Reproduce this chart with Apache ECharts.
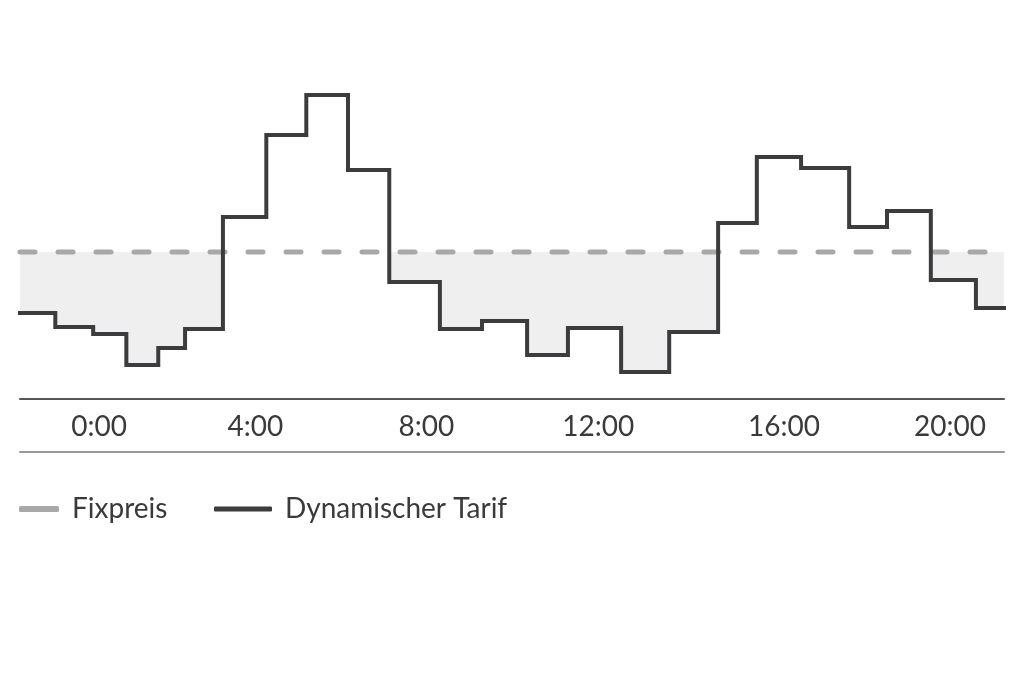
<!DOCTYPE html>
<html>
<head>
<meta charset="utf-8">
<script src="https://cdn.jsdelivr.net/npm/echarts@6/dist/echarts.min.js"></script>
<style>html,body{margin:0;padding:0;background:#fff;}#c{width:1024px;height:683px;}</style>
</head>
<body>
<div id="c"></div>
<script>
// Step boundaries (hours) and price per step (ct/kWh, estimated)
var stepBounds = [-1.86, -1.03, -0.14, 0.64, 1.39, 2.02, 2.91, 3.93, 4.87, 5.85, 6.82, 8.01, 9.00, 10.06, 11.02, 12.27, 13.40, 14.55, 15.46, 16.50, 17.63, 18.52, 19.55, 20.61, 21.27];
var dynamicPrices = [8.6, 7.2, 6.5, 3.4, 5.1, 7.0, 18.2, 26.4, 30.4, 22.9, 11.7, 7.0, 7.8, 4.4, 7.1, 2.7, 6.7, 17.6, 24.2, 23.1, 17.2, 18.8, 11.9, 9.1];
var fixedPrice = 14.7;
var tickLabels = ['0:00', '4:00', '8:00', '12:00', '16:00', '20:00'];
var tickPositions = [0, 3.67, 7.69, 11.73, 16.1, 20];

var FONT = 'Lato';
var dynData = [], baseData = [];
for (var i = 0; i < stepBounds.length; i++) {
  var v = dynamicPrices[Math.min(i, dynamicPrices.length - 1)];
  dynData.push([stepBounds[i], v]);
  baseData.push([stepBounds[i], Math.min(v, fixedPrice)]);
}
var xMin = stepBounds[0], xMax = stepBounds[stepBounds.length - 1];

var chart = echarts.init(document.getElementById('c'), null, {renderer: 'canvas'});
chart.setOption({
  backgroundColor: '#ffffff',
  animation: false,
  textStyle: {fontFamily: FONT},
  grid: {left: 20, right: 20, top: 60, height: 339, containLabel: false},
  xAxis: [{
    type: 'value', min: xMin, max: xMax, position: 'bottom',
    axisLine: {show: true, lineStyle: {color: '#555555', width: 2}},
    axisTick: {show: false},
    splitLine: {show: false},
    axisLabel: {
      show: true, customValues: tickPositions, margin: 14,
      fontSize: 28, color: '#3a3a3a', fontFamily: FONT,
      formatter: function (val) {
        for (var k = 0; k < tickPositions.length; k++) {
          if (Math.abs(tickPositions[k] - val) < 1e-6) return tickLabels[k];
        }
        return '';
      }
    }
  }, {
    type: 'value', min: xMin, max: xMax, position: 'bottom', offset: 53,
    axisLine: {show: true, lineStyle: {color: '#999999', width: 2}},
    axisTick: {show: false}, axisLabel: {show: false}, splitLine: {show: false}
  }],
  yAxis: {type: 'value', min: 0, max: 33.9, show: false, splitLine: {show: false}},
  legend: [{
    left: 14, top: 490, itemWidth: 40, itemHeight: 6, itemGap: 0,
    data: [{name: 'Fixpreis', icon: 'roundRect', itemStyle: {color: '#a8a8a8'}}],
    textStyle: {fontSize: 28, color: '#3a3a3a', fontFamily: FONT, padding: [0, 0, 0, 8]},
    selectedMode: false
  }, {
    left: 209, top: 490, itemWidth: 58, itemHeight: 5, itemGap: 0,
    data: [{name: 'Dynamischer Tarif', icon: 'roundRect', itemStyle: {color: '#3c3c3e'}}],
    textStyle: {fontSize: 28, color: '#3a3a3a', fontFamily: FONT, padding: [0, 0, 0, 8]},
    selectedMode: false
  }],
  series: [{
    name: 'fill', type: 'line', step: 'end', data: baseData,
    symbol: 'none', lineStyle: {opacity: 0},
    areaStyle: {color: '#efefef', opacity: 1, origin: fixedPrice}, z: 1, silent: true
  }, {
    name: 'Fixpreis', type: 'line', data: [[xMin, fixedPrice], [xMax, fixedPrice]],
    symbol: 'none', z: 2,
    lineStyle: {color: '#a8a8a8', width: 5, type: [15, 23], cap: 'round'}
  }, {
    name: 'Dynamischer Tarif', type: 'line', step: 'end', data: dynData,
    symbol: 'none', z: 3,
    lineStyle: {color: '#3c3c3e', width: 4, join: 'miter', cap: 'square'}
  }]
});
</script>
</body>
</html>
